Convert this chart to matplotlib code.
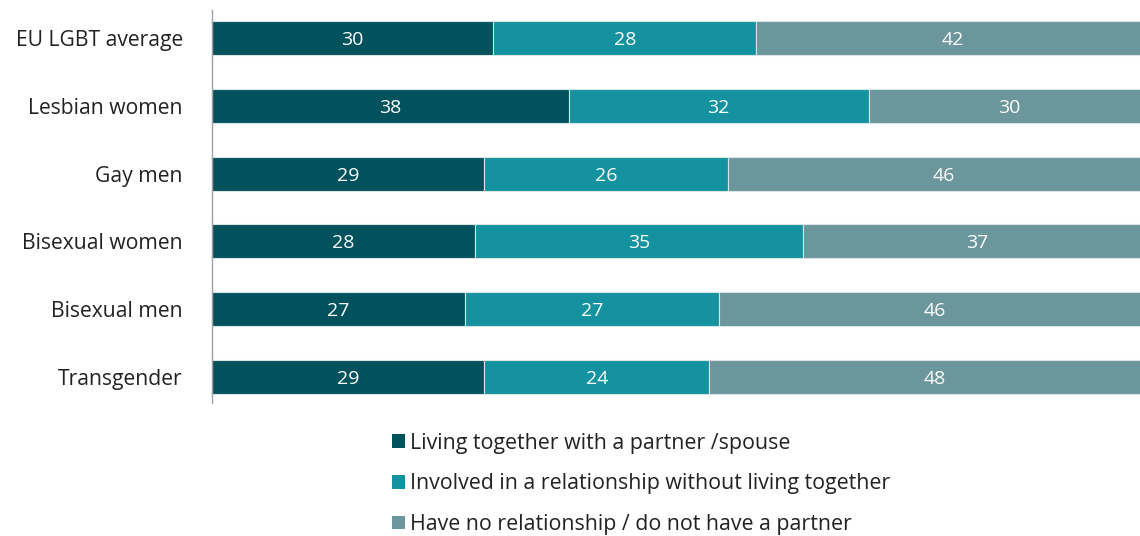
import matplotlib.pyplot as plt
from matplotlib.patches import Patch

plt.rcParams['font.family'] = ['Open Sans', 'DejaVu Sans']

categories = ["EU LGBT average", "Lesbian women", "Gay men",
              "Bisexual women", "Bisexual men", "Transgender"]
living_together = [30, 38, 29, 28, 27, 29]
relationship_apart = [28, 32, 26, 35, 27, 24]
no_relationship = [42, 30, 46, 37, 46, 48]
series_names = ["Living together with a partner /spouse",
                "Involved in a relationship without living together",
                "Have no relationship / do not have a partner"]
colors = ["#02525E", "#1592A0", "#6A969C"]

W, H = 1140, 536
fig = plt.figure(figsize=(W / 100, H / 100), dpi=100)
ax = fig.add_axes([212 / W, (H - 403) / H, (W - 212) / W, 393 / H])

ypos = list(range(len(categories)))
left = [0] * len(categories)
for vals, col in zip([living_together, relationship_apart, no_relationship], colors):
    bars = ax.barh(ypos, vals, left=left, height=0.5, color=col,
                   edgecolor="#d8e4e6", linewidth=0.8)
    for b, v in zip(bars, vals):
        ax.text(b.get_x() + b.get_width() / 2, b.get_y() + b.get_height() / 2 + 0.03,
                str(v), ha="center", va="center", color="white", fontsize=14)
    left = [l + v for l, v in zip(left, vals)]

ax.set_xlim(0, 98.9)
ax.set_ylim(5.38, -0.41)
ax.set_yticks(ypos)
ax.set_yticklabels(categories, fontsize=15.2, color="#222222")
ax.tick_params(axis="y", length=0, pad=21)
ax.set_xticks([])
for s in ["top", "right", "bottom"]:
    ax.spines[s].set_visible(False)
ax.spines["left"].set_color("#a0a0a0")
ax.spines["left"].set_linewidth(1.0)

handles = [Patch(facecolor=c, edgecolor="none") for c in colors]
fig.legend(handles, series_names, loc="upper left",
           bbox_to_anchor=(381 / W, 1 - 422 / H), frameon=False,
           fontsize=15.4, handlelength=0.6, handleheight=0.6,
           handletextpad=0.25, labelspacing=0.92, borderpad=0,
           labelcolor="#222222")

fig.savefig("out.png", dpi=100)
